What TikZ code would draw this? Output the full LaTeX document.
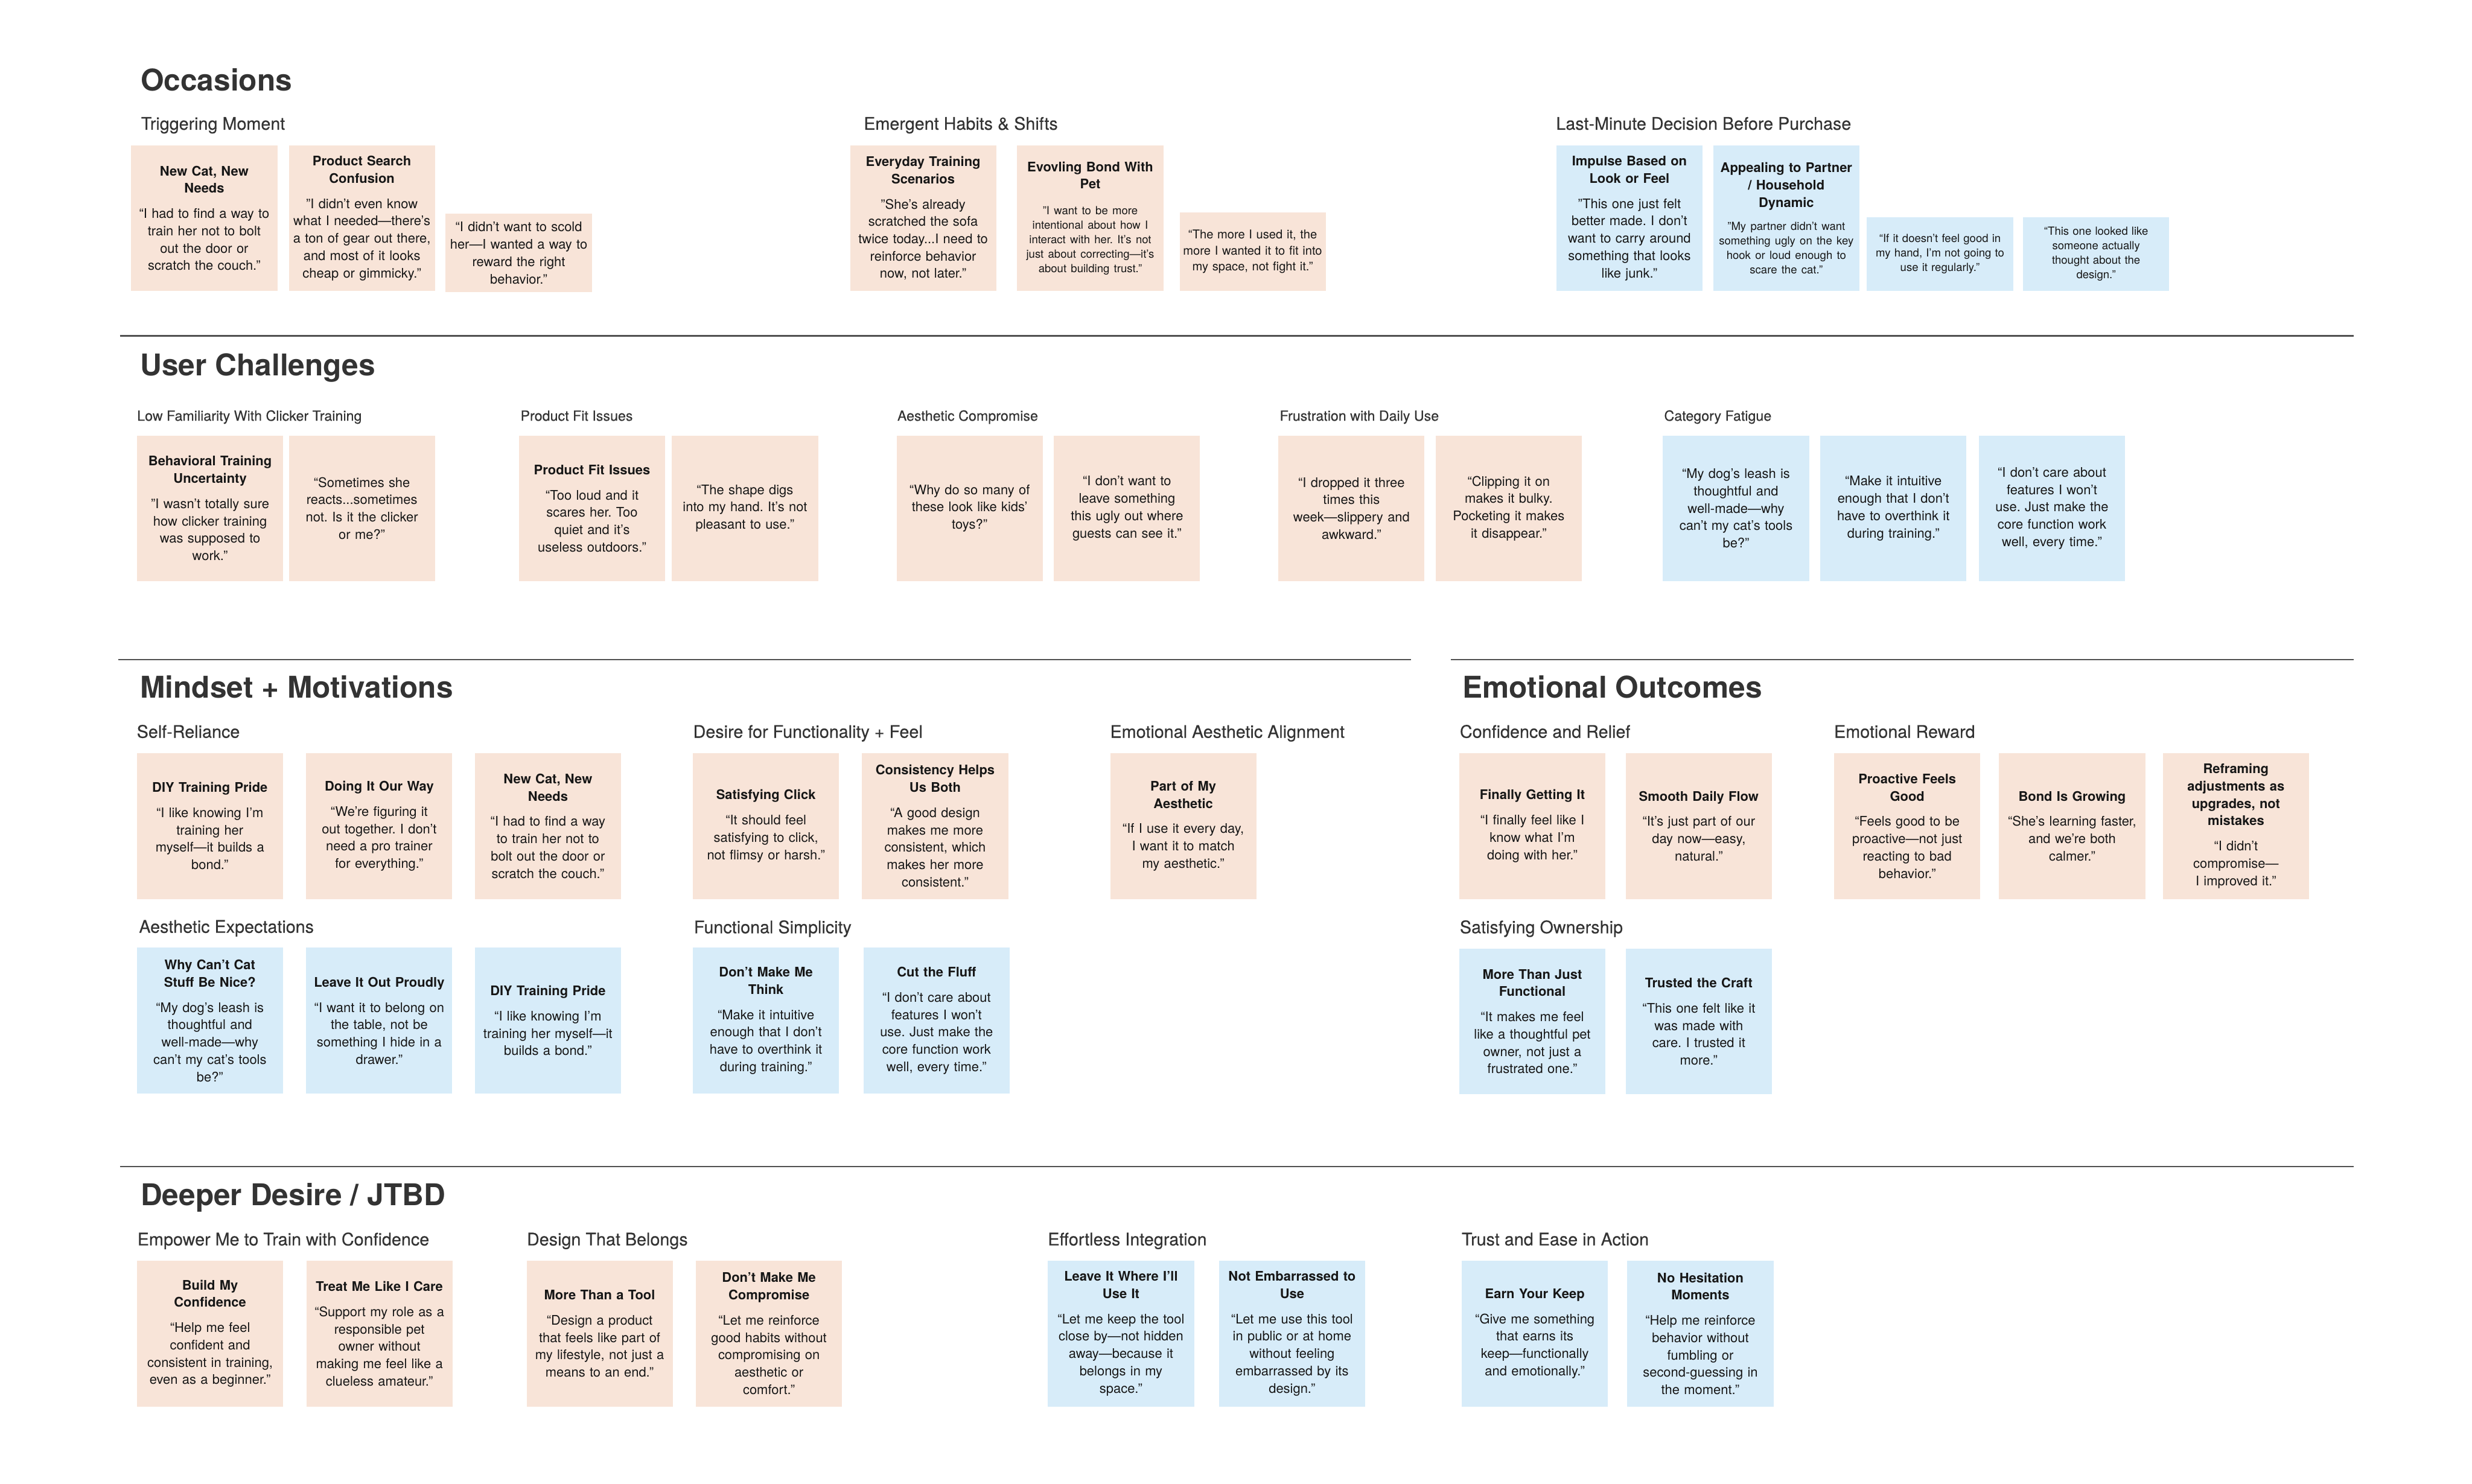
\documentclass[tikz,border=0pt]{standalone}
\usepackage{fontspec}
\setmainfont{TeX Gyre Heros}
\newfontfamily\medfont[FakeBold=0.3]{TeX Gyre Heros}
\setlength{\parindent}{0pt}
\frenchspacing
\definecolor{peach}{RGB}{248,228,216}
\definecolor{sky}{RGB}{215,236,249}
\definecolor{ink}{RGB}{22,22,22}
\definecolor{head}{RGB}{51,51,51}
\definecolor{rulec}{RGB}{80,80,80}
\newcommand\bodyfont{\frenchspacing\fontsize{8.4}{11}\selectfont}
\newcommand\smallbody{\fontsize{7.1}{9.2}\selectfont}
\newcommand\nt[2]{{\bfseries #1\par}\vspace{5pt}#2}
\tikzset{
  card/.style={rectangle, inner sep=0pt, minimum width=92.7pt, minimum height=92.5pt,
    text width=92pt, align=center, anchor=north west, font=\bodyfont, text=ink},
  pnote/.style={card, fill=peach},
  bnote/.style={card, fill=sky},
  sect/.style={anchor=base west, inner sep=0pt, font=\fontsize{19}{22}\selectfont\bfseries, text=head},
  subh/.style={anchor=base west, inner sep=0pt, font=\medfont\fontsize{11}{13}\selectfont, text=head},
  subs/.style={anchor=base west, inner sep=0pt, font=\medfont\fontsize{8.9}{11}\selectfont, text=head},
  rulel/.style={draw=rulec, line width=0.9pt}
}
\begin{document}
\begin{tikzpicture}[x=1pt,y=-1pt]
\fill[white] (0,0) rectangle (1568,941);
\useasboundingbox (0,0) rectangle (1568,941);

% ---------- rules ----------
\coordinate (r1a) at (76,213); \coordinate (r1b) at (1493,213);
\coordinate (r2a) at (75,418.4); \coordinate (r2b) at (895,418.4);
\coordinate (r3a) at (920.4,418.4); \coordinate (r3b) at (1493,418.4);
\coordinate (r4a) at (76,740); \coordinate (r4b) at (1493,740);
\draw[rulel] (r1a) -- (r1b);
\draw[rulel] (r2a) -- (r2b);
\draw[rulel] (r3a) -- (r3b);
\draw[rulel] (r4a) -- (r4b);

% ---------- Occasions ----------
\node[sect] (tocc) at (89,57.6) {Occasions};
\node[subh] (s11) at (89.3,82.3) {Triggering Moment};
\node[subh] (s12) at (547.7,82.3) {Emergent Habits \& Shifts};
\node[subh] (s13) at (986.8,82.3) {Last-Minute Decision Before Purchase};

\node[pnote] (occ1) at (83,92) {\nt{New Cat, New\\Needs}{“I had to find a way to\\train her not to bolt\\out the door or\\scratch the couch."}};
\node[pnote] (occ2) at (183,92) {\nt{Product Search\\Confusion}{"I didn’t even know\\what I needed—there’s\\a ton of gear out there,\\and most of it looks\\cheap or gimmicky."}};
\node[pnote, minimum height=49.5pt] (occ3) at (282.5,135.5) {“I didn’t want to scold\\her—I wanted a way to\\reward the right\\behavior.”};
\node[pnote] (occ4) at (539,92) {\nt{Everyday Training\\Scenarios}{"She’s already\\scratched the sofa\\twice today...I need to\\reinforce behavior\\now, not later."}};
\node[pnote] (occ5) at (645,92) {{\bfseries Evovling Bond With\\Pet\par}\vspace{7pt}{\smallbody "I want to be more\\intentional about how I\\interact with her. It’s not\\just about correcting—it's\\about building trust."\par}};
\node[pnote, minimum height=50pt, font=\frenchspacing\fontsize{7.7}{10.2}\selectfont] (occ6) at (748,134.5) {“The more I used it, the\\more I wanted it to fit into\\my space, not fight it.”};
\node[bnote] (occ7) at (987,92) {\nt{Impulse Based on\\Look or Feel}{"This one just felt\\better made. I don’t\\want to carry around\\something that looks\\like junk."}};
\node[bnote] (occ8) at (1086.5,92) {{\bfseries Appealing to Partner\\/ Household\\Dynamic\par}\vspace{5.3pt}{\smallbody "My partner didn’t want\\something ugly on the key\\hook or loud enough to\\scare the cat."\par}};
\node[bnote, minimum height=47pt, font=\frenchspacing\smallbody] (occ9) at (1184,137.5) {“If it doesn’t feel good in\\my hand, I’m not going to\\use it regularly.”};
\node[bnote, minimum height=47pt, font=\frenchspacing\smallbody] (occ10) at (1283,137.5) {“This one looked like\\someone actually\\thought about the\\design.”};

% ---------- User Challenges ----------
\node[sect] (tuc) at (88.8,238.4) {User Challenges};
\node[subs] (s21) at (86.8,266.9) {Low Familiarity With Clicker Training};
\node[subs] (s22) at (330,266.9) {Product Fit Issues};
\node[subs] (s23) at (569,266.9) {Aesthetic Compromise};
\node[subs] (s24) at (811.6,266.9) {Frustration with Daily Use};
\node[subs] (s25) at (1055.4,266.9) {Category Fatigue};

\node[pnote] (uc1) at (86.7,276) {\nt{Behavioral Training\\Uncertainty}{"I wasn’t totally sure\\how clicker training\\was supposed to\\work."}};
\node[pnote] (uc2) at (183,276) {“Sometimes she\\reacts...sometimes\\not. Is it the clicker\\or me?”};
\node[pnote] (uc3) at (329,276) {\nt{Product Fit Issues}{“Too loud and it\\scares her. Too\\quiet and it’s\\useless outdoors.”}};
\node[pnote] (uc4) at (426,276) {“The shape digs\\into my hand. It’s not\\pleasant to use.”};
\node[pnote] (uc5) at (568.5,276) {“Why do so many of\\these look like kids'\\toys?”};
\node[pnote] (uc6) at (668.3,276) {“I don’t want to\\leave something\\this ugly out where\\guests can see it.”};
\node[pnote] (uc7) at (810.7,276) {“I dropped it three\\times this\\week—slippery and\\awkward.”};
\node[pnote] (uc8) at (910.4,276) {“Clipping it on\\makes it bulky.\\Pocketing it makes\\it disappear.”};
\node[bnote] (uc9) at (1054.6,276) {“My dog’s leash is\\thoughtful and\\well-made—why\\can’t my cat’s tools\\be?”};
\node[bnote] (uc10) at (1154.4,276) {“Make it intuitive\\enough that I don’t\\have to overthink it\\during training.”};
\node[bnote] (uc11) at (1255,276) {“I don’t care about\\features I won’t\\use. Just make the\\core function work\\well, every time.”};

% ---------- Mindset + Motivations ----------
\node[sect] (tmm) at (88.7,442.7) {Mindset + Motivations};
\node[subh] (s31) at (86.6,468) {Self-Reliance};
\node[subh] (s32) at (439.5,468) {Desire for Functionality + Feel};
\node[subh] (s33) at (704,468) {Emotional Aesthetic Alignment};
\node[subh] (s34) at (88,591.7) {Aesthetic Expectations};
\node[subh] (s35) at (440,592) {Functional Simplicity};

\node[pnote] (m1) at (86.6,477.5) {\nt{DIY Training Pride}{“I like knowing I’m\\training her\\myself—it builds a\\bond.”}};
\node[pnote] (m2) at (194,477.5) {\nt{Doing It Our Way}{“We’re figuring it\\out together. I don’t\\need a pro trainer\\for everything.”}};
\node[pnote] (m3) at (301,477.5) {\nt{New Cat, New\\Needs}{“I had to find a way\\to train her not to\\bolt out the door or\\scratch the couch."}};
\node[pnote] (m4) at (439.3,477.5) {\nt{Satisfying Click}{“It should feel\\satisfying to click,\\not flimsy or harsh.”}};
\node[pnote] (m5) at (546.6,477.5) {\nt{Consistency Helps\\Us Both}{“A good design\\makes me more\\consistent, which\\makes her more\\consistent.”}};
\node[pnote] (m6) at (704,477.5) {\nt{Part of My\\Aesthetic}{“If I use it every day,\\I want it to match\\my aesthetic.”}};
\node[bnote] (m7) at (86.6,601) {\nt{Why Can’t Cat\\Stuff Be Nice?}{“My dog’s leash is\\thoughtful and\\well-made—why\\can’t my cat’s tools\\be?”}};
\node[bnote] (m8) at (194,601) {\nt{Leave It Out Proudly}{“I want it to belong on\\the table, not be\\something I hide in a\\drawer.”}};
\node[bnote] (m9) at (301,601) {\nt{DIY Training Pride}{“I like knowing I’m\\training her myself—it\\builds a bond.”}};
\node[bnote] (m10) at (439.3,601) {\nt{Don’t Make Me\\Think}{“Make it intuitive\\enough that I don’t\\have to overthink it\\during training.”}};
\node[bnote] (m11) at (547.5,601) {\nt{Cut the Fluff}{“I don’t care about\\features I won’t\\use. Just make the\\core function work\\well, every time.”}};

% ---------- Emotional Outcomes ----------
\node[sect] (teo) at (927.6,442.7) {Emotional Outcomes};
\node[subh] (s41) at (925.8,468) {Confidence and Relief};
\node[subh] (s42) at (1163.2,468) {Emotional Reward};
\node[subh] (s43) at (925.8,592) {Satisfying Ownership};

\node[pnote] (e1) at (925.4,477.5) {\nt{Finally Getting It}{“I finally feel like I\\know what I’m\\doing with her.”}};
\node[pnote] (e2) at (1031,477.5) {\nt{Smooth Daily Flow}{“It’s just part of our\\day now—easy,\\natural.”}};
\node[pnote] (e3) at (1163.2,477.5) {\nt{Proactive Feels\\Good}{“Feels good to be\\proactive—not just\\reacting to bad\\behavior.”}};
\node[pnote] (e4) at (1267.8,477.5) {\nt{Bond Is Growing}{“She’s learning faster,\\and we’re both\\calmer.”}};
\node[pnote] (e5) at (1371.7,477.5) {\nt{Reframing\\adjustments as\\upgrades, not\\mistakes}{“I didn’t\\compromise—\\I improved it.”}};
\node[bnote] (e6) at (925.4,601.5) {\nt{More Than Just\\Functional}{“It makes me feel\\like a thoughtful pet\\owner, not just a\\frustrated one.”}};
\node[bnote] (e7) at (1031,601.5) {\nt{Trusted the Craft}{“This one felt like it\\was made with\\care. I trusted it\\more.”}};

% ---------- Deeper Desire / JTBD ----------
\node[sect] (tdd) at (89,764.8) {Deeper Desire / JTBD};
\node[subh] (s51) at (87,790) {Empower Me to Train with Confidence};
\node[subh] (s52) at (334,790) {Design That Belongs};
\node[subh] (s53) at (664.5,790) {Effortless Integration};
\node[subh] (s54) at (927,790) {Trust and Ease in Action};

\node[pnote] (d1) at (86.7,799.5) {\nt{Build My\\Confidence}{“Help me feel\\confident and\\consistent in training,\\even as a beginner.”}};
\node[pnote] (d2) at (194.1,799.5) {\nt{Treat Me Like I Care}{“Support my role as a\\responsible pet\\owner without\\making me feel like a\\clueless amateur.”}};
\node[pnote] (d3) at (333.8,799.5) {\nt{More Than a Tool}{“Design a product\\that feels like part of\\my lifestyle, not just a\\means to an end.”}};
\node[pnote] (d4) at (441.2,799.5) {\nt{Don’t Make Me\\Compromise}{“Let me reinforce\\good habits without\\compromising on\\aesthetic or\\comfort.”}};
\node[bnote] (d5) at (664.5,799.5) {\nt{Leave It Where I’ll\\Use It}{“Let me keep the tool\\close by—not hidden\\away—because it\\belongs in my\\space.”}};
\node[bnote] (d6) at (773,799.5) {\nt{Not Embarrassed to\\Use}{“Let me use this tool\\in public or at home\\without feeling\\embarrassed by its\\design.”}};
\node[bnote] (d7) at (927,799.5) {\nt{Earn Your Keep}{“Give me something\\that earns its\\keep—functionally\\and emotionally.”}};
\node[bnote] (d8) at (1032,799.5) {\nt{No Hesitation\\Moments}{“Help me reinforce\\behavior without\\fumbling or\\second-guessing in\\the moment.”}};
\end{tikzpicture}
\end{document}
